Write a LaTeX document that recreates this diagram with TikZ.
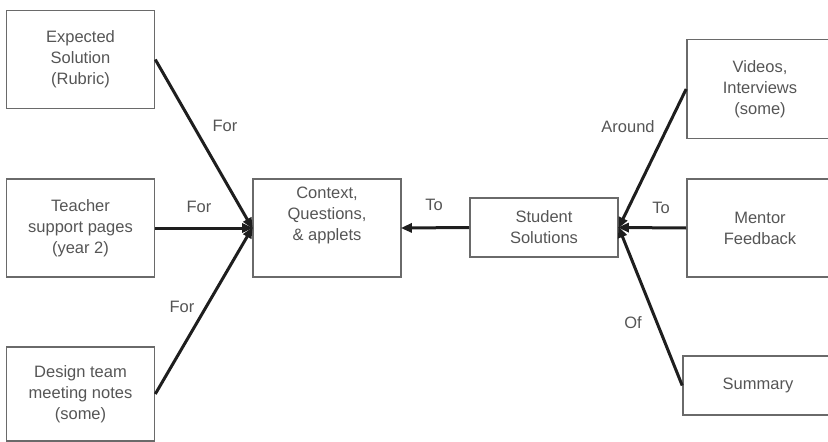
\documentclass[tikz,border=0pt]{standalone}
\usepackage{fontspec}
\setmainfont{Liberation Sans}
\usetikzlibrary{arrows.meta}
\definecolor{boxline}{HTML}{6A6A6A}
\definecolor{txt}{HTML}{555555}
\definecolor{conn}{HTML}{1E1E1E}
\tikzset{
  box/.style={draw=boxline, line width=1.6pt, inner sep=0pt, text=txt,
    align=center, font=\fontsize{16.5}{21}\selectfont},
  txtnode/.style={text=txt, inner sep=0pt, align=center, font=\fontsize{16.5}{21}\selectfont},
  lbl/.style={text=txt, inner sep=0pt, font=\fontsize{16.5}{19}\selectfont},
  conn/.style={draw=conn, line width=3pt, -{Triangle[length=11pt,width=9pt]}, shorten >=-1pt}
}
\begin{document}
\begin{tikzpicture}[x=1pt,y=-1pt]
\useasboundingbox (0,0) rectangle (828,442);
% left column
\node[box, minimum width=148pt, minimum height=98pt] (exp) at (80.5,59.5) {Expected\\Solution\\(Rubric)};
\node[box, minimum width=148pt, minimum height=98pt] (tea) at (80.5,228) {Teacher\\support pages\\(year 2)};
\node[box, minimum width=148pt, minimum height=94pt] (des) at (80.5,394) {Design team\\meeting notes\\(some)};
% centre
\node[box, minimum width=148pt, minimum height=98pt] (ctx) at (327,228) {};
\node[txtnode] (ctxt) at (327,215) {Context,\\Questions,\\\& applets};
\node[box, minimum width=148pt, minimum height=59pt] (stu) at (544,227.5) {Student\\Solutions};
% right column
\node[box, minimum width=146pt, minimum height=99pt] (vid) at (760,89) {Videos,\\Interviews\\(some)};
\node[box, minimum width=146pt, minimum height=98pt] (men) at (760,228) {Mentor\\Feedback};
\node[box, minimum width=150pt, minimum height=59pt] (sum) at (758,385.5) {Summary};
% connectors
\draw[conn] (exp.east) -- (ctx.west);
\draw[conn] (tea.east) -- (ctx.west);
\draw[conn] (des.east) -- (ctx.west);
\draw[conn] (stu.west) -- (ctx.east);
\draw[conn] (vid.west) -- (stu.east);
\draw[conn] (men.west) -- (stu.east);
\draw[conn] (sum.west) -- (stu.east);
% labels
\node[lbl] (l1) at (225,126) {For};
\node[lbl] (l2) at (199,207) {For};
\node[lbl] (l3) at (182,307) {For};
\node[lbl] (l4) at (434,205) {To};
\node[lbl] (l5) at (628,127) {Around};
\node[lbl] (l6) at (661,208) {To};
\node[lbl] (l7) at (633,323) {Of};
\end{tikzpicture}
\end{document}
